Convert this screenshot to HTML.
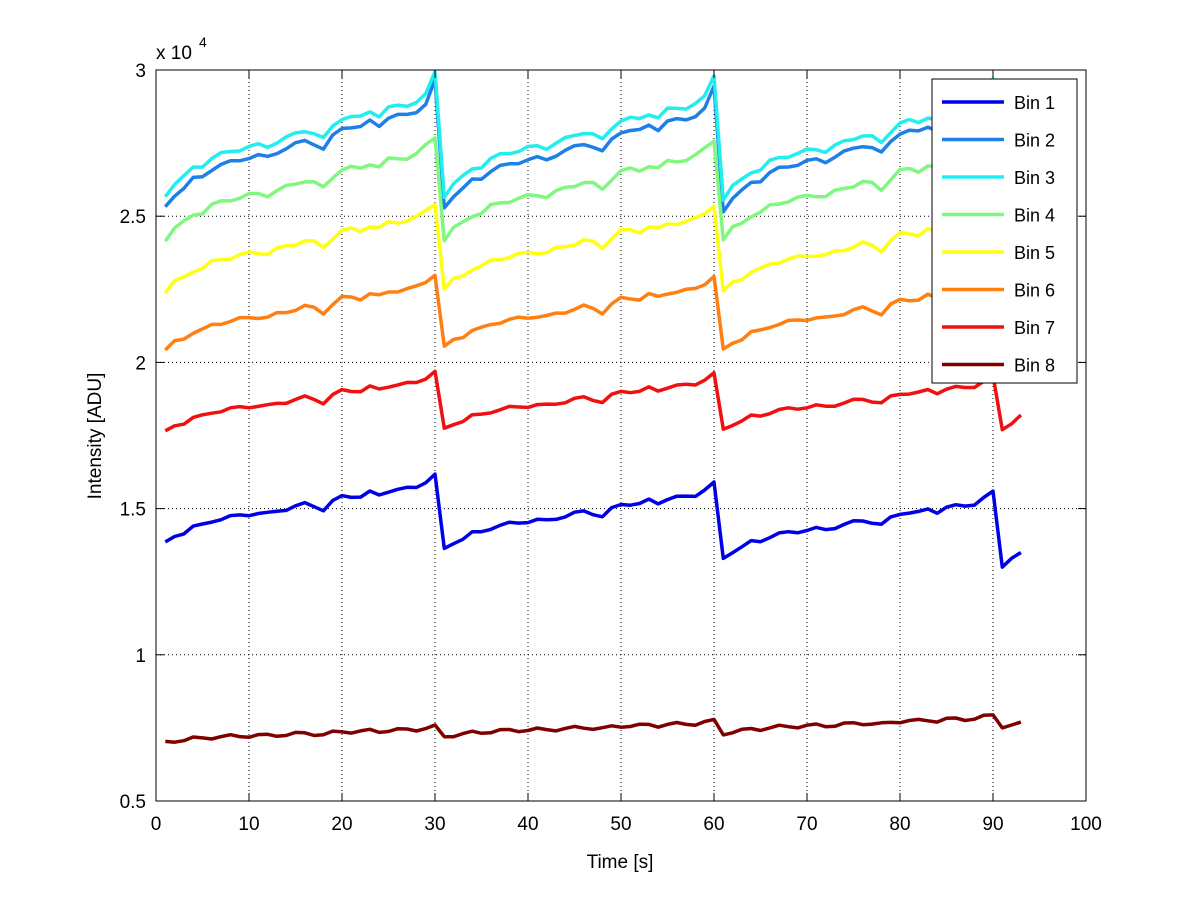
<!DOCTYPE html>
<html><head><meta charset="utf-8"><style>
body{margin:0;background:#fff;}
svg text{font-family:"Liberation Sans",sans-serif;}
</style></head><body>
<svg id="s" width="1200" height="901" xmlns="http://www.w3.org/2000/svg">
<rect width="1200" height="901" fill="#fff"/>
<g id="grid" stroke="#000" stroke-width="1" stroke-dasharray="1,3"></g>
<g id="lines" fill="none" stroke-width="3.5" stroke-linejoin="round"></g>
<rect x="156" y="70" width="930" height="731" fill="none" stroke="#000" stroke-width="1"/>
<g id="ticks" stroke="#000"></g>
<g id="labels" font-size="19" fill="#000"></g>
<text x="156" y="59" font-size="19">x 10</text><text x="199" y="47" font-size="14">4</text>
<text x="620" y="868" font-size="19" text-anchor="middle">Time [s]</text>
<text transform="translate(101,436) rotate(-90)" font-size="19" text-anchor="middle">Intensity [ADU]</text>
<rect x="932" y="79" width="145" height="304" fill="#fff" stroke="#000"/>
<g id="leg" font-size="18"></g>
</svg>
<script>
var ns="http://www.w3.org/2000/svg";
function el(p,t,a,txt){var e=document.createElementNS(ns,t);for(var k in a)e.setAttribute(k,a[k]);if(txt!=null)e.textContent=txt;document.getElementById(p).appendChild(e);}
function X(t){return 156+t*9.3;}
function Y(v){return 70+(3-v)*292.4;}
for(var i=1;i<10;i++){el("grid","line",{x1:X(i*10),x2:X(i*10),y1:70,y2:801});}
for(var i=1;i<5;i++){var y=70+i*146.2;el("grid","line",{x1:156,x2:1086,y1:y,y2:y});}
for(var i=0;i<=10;i++){var x=X(i*10);el("ticks","line",{x1:x,x2:x,y1:801,y2:793});el("ticks","line",{x1:x,x2:x,y1:70,y2:78});
el("labels","text",{x:x,y:830,"text-anchor":"middle"},String(i*10));}
var yl=["3","2.5","2","1.5","1","0.5"];
for(var i=0;i<6;i++){var y=70+i*146.2;el("ticks","line",{x1:156,x2:164,y1:y,y2:y});el("ticks","line",{x1:1086,x2:1078,y1:y,y2:y});
el("labels","text",{x:146,y:y+7,"text-anchor":"end"},yl[i]);}
var prof=[0,.1,.15,.22,.24,.3,.33,.35,.37,.39,.4,.39,.43,.46,.49,.52,.5,.45,.55,.62,.63,.62,.67,.64,.7,.71,.72,.75,.82,.9];
var prof2=[0,.1,.15,.22,.24,.3,.33,.35,.37,.39,.4,.39,.43,.46,.49,.52,.5,.45,.55,.62,.63,.62,.67,.64,.7,.71,.72,.75,.8,.98];
var bins=[
["#0000e6",[[1.38,1.64],[1.36,1.61],[1.33,1.58]],[1.30,1.33,1.35]],
["#1f7fe8",[[2.53,2.97],[2.53,2.95],[2.52,2.95]],[2.5,2.52,2.55]],
["#22eef0",[[2.57,3.0],[2.57,2.99],[2.56,2.98]],[2.5,2.52,2.55]],
["#80f880",[[2.42,2.81],[2.42,2.80],[2.42,2.80]],[2.4,2.42,2.45]],
["#ffff10",[[2.24,2.58],[2.25,2.57],[2.24,2.56]],[2.2,2.22,2.25]],
["#ff8010",[[2.04,2.33],[2.05,2.32],[2.04,2.32]],[2.0,2.02,2.05]],
["#f01010",[[1.76,1.99],[1.77,1.98],[1.77,1.97]],[1.77,1.79,1.82]],
["#800000",[[0.70,0.76],[0.72,0.78],[0.73,0.80]],[0.75,0.76,0.77]]];
var names=["Bin 1","Bin 2","Bin 3","Bin 4","Bin 5","Bin 6","Bin 7","Bin 8"];
bins.forEach(function(b,bi){
 var pts=[];
 for(var c=0;c<3;c++){var s=b[1][c][0],e=b[1][c][1];var pr=(bi==1||bi==2)?prof2:prof;
  for(var j=0;j<30;j++){var t=c*30+j+1;var v=s+(e-s)*pr[j]+0.006*Math.sin(t*1.7+bi);pts.push([t,v]);}}
 if(bi==2){pts[89][1]=2.97;}
 for(var j=0;j<3;j++)pts.push([91+j,b[2][j]]);
 var d="";pts.forEach(function(p,i){d+=(i?"L":"M")+X(p[0]).toFixed(1)+","+Y(p[1]).toFixed(1);});
 el("lines","path",{d:d,stroke:b[0]});
 var ly=104+bi*37.5;
 el("leg","line",{x1:942,x2:1004,y1:ly-2,y2:ly-2,stroke:b[0],"stroke-width":3.5});
 el("leg","text",{x:1014,y:ly+5},names[bi]);
});
</script>
</body></html>
